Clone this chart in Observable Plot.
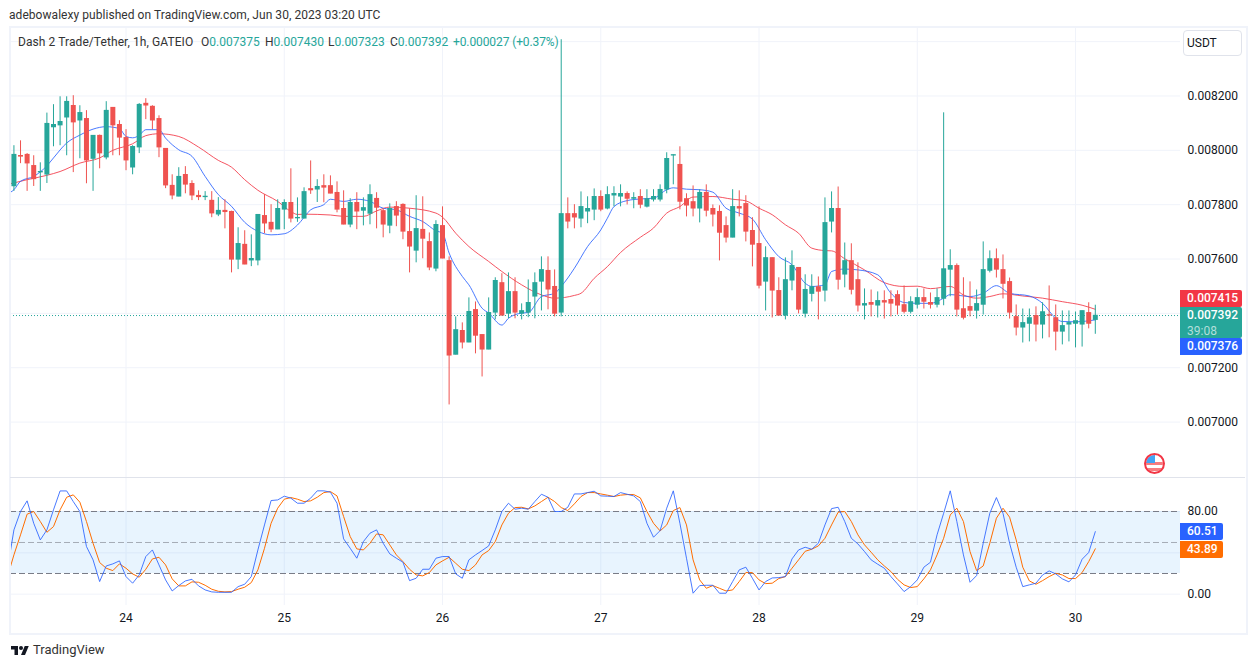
<!DOCTYPE html>
<html><head><meta charset="utf-8">
<script src="https://cdn.jsdelivr.net/npm/d3@7"></script>
<script src="https://cdn.jsdelivr.net/npm/@observablehq/plot@0.6"></script>
<style>
html,body{margin:0;padding:0;background:#fff;width:1256px;height:668px;overflow:hidden;font-family:Roboto,sans-serif;color:#131722}
#page{position:relative;width:1256px;height:668px}
#page>*{position:absolute}
#plots{left:0;top:0;width:1256px;height:668px}
#plots svg{max-width:none}
#border{left:9px;top:26px;width:1235px;height:605px;border:2px solid #f0f3fa;pointer-events:none}
#divider{left:10px;top:477px;width:1235px;height:1px;background:#e0e3eb}
#credit{left:9px;top:6px;font-size:12px;line-height:18px;color:#333;white-space:nowrap;letter-spacing:.05px}
#legend{left:0;top:33px;width:600px;height:18px;font-size:12px;line-height:18px;white-space:pre;color:#333}
#legend span{position:absolute;top:0}
#legend b{font-weight:400;color:#26a69a}
#unit{left:1183px;top:30px;width:59px;height:26px;box-sizing:border-box;border:1px solid #e0e3eb;border-radius:4px;background:#fff;padding-left:3px;font-size:12px;line-height:24px}
.tag{left:1180px;width:62px;color:#fff;font-size:12px;font-weight:500;padding-left:7px;box-sizing:border-box;line-height:17px;border-radius:0 2px 2px 0}
.sm{width:43px}
#count{color:#b2dfdb;font-weight:400;display:block;line-height:14px}
#tv{left:33px;top:641px;font-size:13px;line-height:18px;color:#333}
#logo{left:11px;top:644px;width:18px;height:14px}
#flag{left:1144px;top:453px;width:21px;height:21px}
</style></head><body><div id="page">
<div id="plots"></div>
<div id="border"></div><div id="divider"></div>
<div id="credit">adebowalexy published on TradingView.com, Jun 30, 2023 03:20 UTC</div>
<div id="legend"><span style="left:18px;letter-spacing:.08px">Dash 2 Trade/Tether, 1h, GATEIO</span><span style="left:201px">O<b>0.007375</b></span><span style="left:265px">H<b>0.007430</b></span><span style="left:328px">L<b>0.007323</b></span><span style="left:390px">C<b>0.007392</b></span><span style="left:453px;letter-spacing:-.1px"><b>+0.000027 (+0.37%)</b></span></div>
<div id="unit">USDT</div>
<div class="tag" style="top:290px;background:#f23645">0.007415</div>
<div class="tag" style="top:307px;height:31px;background:#26a69a">0.007392<span id="count">39:08</span></div>
<div class="tag" style="top:338px;background:#2962ff">0.007376</div>
<div class="tag sm" style="top:523px;background:#2962ff">60.51</div>
<div class="tag sm" style="top:541px;background:#ff6d00">43.89</div>
<svg id="flag" viewBox="0 0 21 21"><defs><clipPath id="fc"><circle cx="10.5" cy="10.5" r="8.5"/></clipPath></defs>
<g clip-path="url(#fc)"><rect width="21" height="21" fill="#fff"/><rect y="9" width="21" height="3" fill="#f77c80"/><rect y="15" width="21" height="3" fill="#f77c80"/><rect y="2" width="11" height="8" fill="#42a5f5"/></g>
<circle cx="10.5" cy="10.5" r="9.5" fill="none" stroke="#f23645" stroke-width="2"/></svg>
<svg id="logo" viewBox="0 0 36 28"><path fill="#131722" d="M14 22H7V11H0V4h14v18zM28 22h-8l7.5-18h8L28 22z"/><circle cx="20" cy="8" r="4" fill="#131722"/></svg>
<div id="tv">TradingView</div>
</div>
<script>
// Prices are in millionths of a USDT; the x position is the hourly candle number.
const opens=[7867,7980,7984,7943,7918,7910,8084,8091,8120,8164,8109,8116,7968,8054,7973,8157,8094,8046,7936,8010,
8172,8161,8116,8006,7870,7829,7910,7877,7833,7827,7815,7763,7778,7774,7597,7653,7594,7594,7759,7734,
7708,7781,7807,7749,7748,7858,7855,7869,7869,7844,7785,7726,7807,7777,7766,7822,7777,7722,7792,7800,
7700,7630,7708,7663,7564,7722,7593,7247,7336,7292,7413,7321,7266,7402,7512,7398,7479,7398,7402,7461,
7516,7557,7498,7402,7766,7766,7748,7774,7781,7829,7785,7833,7829,7840,7821,7829,7792,7818,7818,7855,
7980,7947,7821,7810,7785,7844,7785,7774,7722,7678,7792,7803,7704,7656,7516,7604,7483,7391,7520,7568,
7398,7471,7497,7483,7737,7785,7542,7593,7523,7428,7439,7428,7446,7450,7468,7431,7405,7431,7457,7439,
7431,7453,7560,7575,7416,7424,7409,7431,7556,7600,7560,7516,7387,7347,7361,7391,7358,7394,7383,7332,
7358,7361,7358,7402,7375];
const closes=[7984,7976,7951,7893,7921,8098,8094,8105,8179,8102,8138,7962,8054,7988,8146,8091,8046,7962,8013,8168,
8164,8109,8010,7870,7833,7903,7873,7833,7827,7830,7767,7778,7772,7597,7656,7579,7601,7763,7730,7708,
7785,7807,7748,7752,7847,7852,7866,7862,7840,7781,7726,7807,7774,7788,7836,7788,7726,7785,7759,7700,
7645,7711,7674,7568,7726,7601,7244,7339,7292,7406,7317,7266,7402,7520,7391,7479,7402,7409,7439,7512,
7560,7487,7398,7766,7737,7752,7792,7785,7829,7781,7836,7840,7840,7821,7825,7799,7821,7829,7855,7969,
7983,7810,7796,7785,7844,7777,7763,7696,7678,7792,7785,7700,7652,7501,7604,7483,7391,7523,7575,7413,
7487,7497,7479,7733,7785,7523,7593,7486,7428,7435,7431,7446,7439,7435,7428,7405,7442,7457,7442,7431,
7457,7563,7575,7413,7383,7409,7435,7560,7600,7560,7508,7402,7347,7365,7383,7358,7405,7391,7332,7354,
7365,7372,7409,7361,7392];
const highs=[8017,8035,7988,7980,7954,8137,8168,8197,8197,8201,8164,8146,8054,8056,8179,8157,8109,8076,8017,8172,
8190,8164,8127,8006,7910,7936,7940,7888,7851,7848,7848,7826,7818,7776,7715,7704,7689,7763,7837,7800,
7818,7818,7932,7825,7862,7961,7892,7910,7906,7884,7851,7822,7844,7825,7873,7844,7785,7803,7811,7803,
7785,7833,7829,7696,7741,7792,7608,7387,7365,7457,7442,7321,7457,7531,7546,7549,7531,7435,7523,7549,
7608,7608,7560,8407,7825,7800,7847,7829,7858,7851,7866,7866,7873,7847,7844,7855,7855,7855,7873,7991,
7983,8013,7840,7869,7855,7873,7799,7796,7755,7855,7851,7833,7752,7792,7645,7604,7531,7604,7630,7568,
7542,7542,7534,7825,7847,7865,7659,7656,7586,7490,7486,7479,7483,7483,7483,7501,7461,7490,7490,7475,
7490,8138,7634,7582,7531,7516,7486,7663,7630,7637,7615,7530,7431,7416,7416,7424,7439,7501,7431,7409,
7409,7405,7409,7439,7430];
const lows=[7849,7951,7849,7867,7849,7878,8013,8017,7980,7918,7969,7877,7849,7932,7965,7980,7980,7925,7910,7988,
8113,8076,7973,7859,7818,7829,7840,7815,7815,7815,7752,7756,7711,7549,7561,7579,7572,7575,7693,7697,
7708,7708,7733,7735,7748,7838,7808,7807,7840,7770,7726,7715,7708,7722,7726,7711,7678,7693,7719,7671,
7549,7586,7601,7557,7553,7601,7063,7247,7269,7292,7251,7166,7266,7376,7391,7380,7380,7376,7384,7380,
7409,7413,7387,7387,7711,7711,7715,7730,7741,7774,7781,7792,7792,7799,7785,7785,7788,7810,7810,7840,
7873,7781,7755,7755,7733,7755,7718,7593,7659,7678,7755,7663,7571,7490,7409,7383,7391,7376,7483,7398,
7383,7442,7376,7442,7696,7486,7494,7468,7405,7376,7387,7383,7379,7387,7394,7398,7398,7416,7416,7416,
7420,7428,7461,7387,7376,7387,7379,7394,7549,7530,7453,7379,7317,7291,7295,7295,7306,7310,7262,7284,
7295,7273,7276,7343,7323];

const fastHours=[-1,0,1,3,5,6,8,10,12,14,16,17,18,19,20,22,23,25,27,29,31,33,35,37,39,41,43,45,47,48,50,52,54,56,58,60,62,64,65,66,68,69,71,72,74,75,77,78,80,82,83,85,87,89,90,91,93,95,97,99,100,102,104,106,108,110,112,114,116,118,120,121,123,124,126,128,131,133,135,137,139,141,142,145,147,149,151,154,156,158,159,161,164];
const fastAverage=[7840,7855,7886,7904,7943,7972,8027,8056,8078,8087,8080,8051,8046,8055,8076,8076,8045,8002,7978,7904,7837,7794,7735,7702,7689,7693,7725,7781,7800,7820,7812,7820,7812,7787,7781,7757,7738,7704,7695,7622,7536,7505,7419,7401,7357,7382,7401,7403,7462,7474,7499,7566,7646,7707,7750,7793,7815,7821,7824,7855,7862,7857,7855,7846,7787,7769,7747,7671,7609,7579,7511,7499,7505,7554,7563,7560,7542,7474,7440,7437,7437,7456,7469,7462,7474,7502,7474,7464,7437,7382,7370,7369,7376];
const slowHours=[-1,0,2,5,7,10,13,15,18,20,22,25,28,31,33,35,37,40,42,43,44,48,50,53,55,57,60,64,65,67,69,72,74,77,80,82,85,86,88,90,92,95,97,99,101,103,106,109,111,113,115,117,119,121,123,124,126,129,132,135,137,139,142,144,146,148,150,153,156,159,162,164];
const slowAverage=[7875,7880,7892,7908,7922,7953,7972,8000,8024,8054,8061,8051,8012,7963,7938,7892,7853,7812,7775,7764,7765,7762,7757,7757,7777,7791,7787,7769,7754,7695,7646,7591,7554,7505,7468,7456,7466,7474,7529,7572,7624,7680,7714,7769,7793,7828,7830,7820,7814,7787,7763,7726,7695,7640,7631,7630,7601,7560,7513,7499,7500,7491,7499,7468,7456,7462,7472,7464,7456,7443,7430,7415];

// Stochastic RSI: one value per candle, starting one candle before the left edge.
const stochK=[23.5,62.2,80,90.3,68.6,52.5,62.2,81.6,99.9,99.9,89.6,80,46.1,33.2,12.2,27.3,29.3,32.2,17,10.6,18.6,36.4,42.8,28.3,13.8,3.1,8.3,12.8,14.4,8,4.1,2.2,1.8,1.8,1.8,7.3,9.6,17,42.8,67,90.6,91.2,94.8,92.9,88,88,92.9,100,100,98.7,88,53.5,44.4,34.8,50.9,59,62.2,49.3,39,34.8,30.9,13.1,15.4,
24.1,24.1,34.8,36.4,36.4,19.6,15.4,33.2,38,42.2,46.7,62.2,80,88,82.2,83.2,82.2,89.6,96.7,93.8,80,80,84.1,97,97,98.3,99.6,95.1,94.8,94.5,98.3,96.7,95.1,89.6,68.6,55.1,61.5,83.2,100,68.6,34.8,0.9,8.3,8.6,8.6,0.9,0.9,12.2,23.5,26.1,15.4,4.1,12.2,15.7,16,17,34.1,42.8,45.4,43.5,49.3,67,82.8,84.1,
70.3,54.1,48.6,41.2,33.2,29,25.1,17,9.9,2.5,7.3,13.8,26.1,30.9,57.4,78.3,100,70.3,38,11.5,18,49.3,78.3,93.5,78.3,49.3,26.1,7.3,9,10.6,18.6,22.5,19.6,14.8,11.9,18.6,33.8,40.3,60.51];
const stochD=[16.4,38,57.4,77.4,80,70.3,59.9,65.4,81.6,93.8,96.1,89,70.3,49.3,30.6,25.1,22.8,29.3,25.1,19.6,16.4,24.1,34.1,35.7,28.3,14.8,8,8,11.9,11.5,8.6,4.8,2.8,2.2,2.5,4.8,6.7,11.2,23.5,44.4,68.6,83.2,91.9,93.5,91.9,89.6,90.3,93.8,98.3,99.3,95.1,75.1,55.7,43.8,42.8,49.3,58.3,57.4,47.7,38,31.5,24.1,18.6,
17.7,20.9,28.3,32.2,35.7,29.9,24.1,22.8,28.3,38,42.2,50.9,67,78.3,83.8,84.1,82.5,85.4,89.6,93.8,89.6,83.8,80.9,87.4,94.5,98.3,98.3,97,95.8,94.5,95.8,96.4,96.4,93.2,80,68.6,61.2,67,80.9,83.8,67,33.2,13.8,5.7,8.3,5.7,3.1,4.1,12.2,20.9,20.9,13.8,10.2,10.6,15.1,17,25.1,33.2,41.5,43.5,46.7,54.1,67,79.3,
80,70.3,57.4,47.7,40.6,33.2,27.3,21.9,14.4,9,6.4,7.3,14.8,23.5,38,54.1,76.7,83.2,70.3,41.2,22.8,27.3,49.3,73.5,83.2,74.5,52.5,26.1,12.8,9.6,13.1,17,20.2,18.6,15.1,15.1,20.9,31.5,43.89];

const dayLabels=["24","25","26","27","28","29","30"];
const dayCandles=[17,41,65,89,113,137,161];
const priceGrid=[7000,7200,7400,7600,7800,8000,8200,8400];
const priceTicks=[7000,7200,7400,7600,7800,8000,8200];
const lastPrice=7392;
const oscGrid=[0,40,80];
const oscTicks=[0,80];
const oscBand=[{low:20,high:80}];

const GREEN="#26a69a",RED="#ef5350",GRID="#f0f3fa";
const xDomain=[-0.52,176.92];
const candles=opens.map((o,i)=>({i,o,c:closes[i],h:highs[i],l:lows[i],col:closes[i]>=o?GREEN:RED}));
const fast=fastHours.map((i,k)=>({i,v:fastAverage[k]}));
const slow=slowHours.map((i,k)=>({i,v:slowAverage[k]}));
const kLine=stochK.map((v,k)=>({i:k-1,v}));
const dLine=stochD.map((v,k)=>({i:k-1,v}));
const font={fontFamily:'Roboto,sans-serif',fontSize:"12px",background:"transparent",color:"#131722",overflow:"visible"};

const main=Plot.plot({
  width:1246,height:477,marginTop:27,marginBottom:0,marginLeft:10,marginRight:66,
  style:{...font,position:"absolute",left:"0",top:"0"},
  x:{domain:xDomain,axis:null},
  y:{domain:[6796,8452],axis:null},
  marks:[
    Plot.ruleX(dayCandles,{stroke:GRID}),
    Plot.ruleY(priceGrid,{stroke:GRID}),
    Plot.axisY(priceTicks,{anchor:"right",tickSize:0,tickPadding:7,label:null,tickFormat:d=>(d/1e6).toFixed(6)}),
    Plot.ruleY([lastPrice],{stroke:GREEN,strokeDasharray:"1,2"}),
    Plot.line(slow,{x:"i",y:"v",stroke:"#f23645",strokeWidth:1,strokeOpacity:.85,curve:"monotone-x",clip:true}),
    Plot.line(fast,{x:"i",y:"v",stroke:"#2962ff",strokeWidth:1,strokeOpacity:.85,curve:"monotone-x",clip:true}),
    Plot.ruleX(candles,{x:"i",y1:"l",y2:"h",stroke:"col",strokeWidth:1}),
    Plot.ruleX(candles,{x:"i",y1:d=>Math.min(d.o,d.c)-1,y2:d=>Math.max(d.o,d.c)+1,stroke:"col",strokeWidth:5})
  ]
});
const osc=Plot.plot({
  width:1246,height:155,marginTop:0,marginBottom:27,marginLeft:10,marginRight:66,
  style:{...font,position:"absolute",left:"0",top:"477px"},
  x:{domain:xDomain,axis:null},
  y:{domain:[-10.97,112.9],axis:null},
  marks:[
    Plot.ruleX(dayCandles,{stroke:GRID}),
    Plot.ruleY(oscGrid,{stroke:GRID}),
    Plot.rect(oscBand,{x1:()=>xDomain[0],x2:()=>xDomain[1],y1:"low",y2:"high",fill:"#2196f3",fillOpacity:.1}),
    Plot.ruleY([50],{stroke:"#787b86",strokeOpacity:.6,strokeDasharray:"6,3"}),
    Plot.ruleY([20,80],{stroke:"#787b86",strokeDasharray:"6,3"}),
    Plot.axisY(oscTicks,{anchor:"right",tickSize:0,tickPadding:7,label:null,tickFormat:d=>d.toFixed(2)}),
    Plot.axisX(dayCandles,{anchor:"bottom",tickSize:0,tickPadding:8,label:null,tickFormat:(d,k)=>dayLabels[k]}),
    Plot.line(dLine,{x:"i",y:"v",stroke:"#ff6d00",strokeWidth:1,clip:true}),
    Plot.line(kLine,{x:"i",y:"v",stroke:"#2962ff",strokeWidth:1,strokeOpacity:.85,clip:true})
  ]
});
const holder=document.getElementById("plots");
holder.appendChild(main);holder.appendChild(osc);
</script></body></html>
